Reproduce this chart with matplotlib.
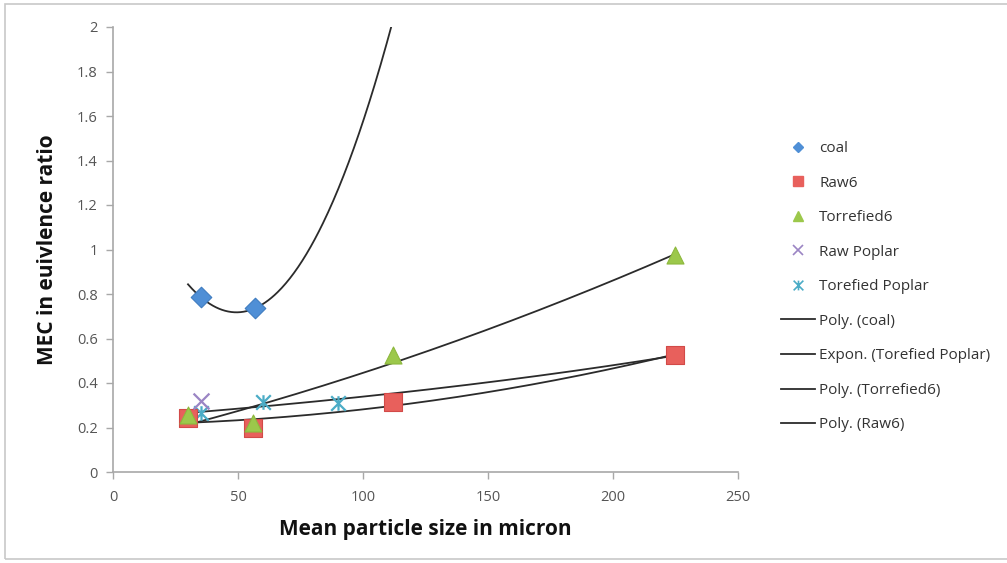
import numpy as np
import matplotlib
matplotlib.use("Agg")
import matplotlib.pyplot as plt
from matplotlib.patches import Rectangle
from matplotlib.lines import Line2D
from matplotlib.path import Path

# ---- data ----
coal_x = [35, 57]
coal_y = [0.787, 0.737]
# hidden (off-chart) coal point that drives the polynomial trend
coal_fit_x = [35, 57, 112]
coal_fit_y = [0.787, 0.737, 2.03]

raw6_x = [30, 56, 112, 225]
raw6_y = [0.243, 0.200, 0.315, 0.527]

torr6_x = [30, 56, 112, 225]
torr6_y = [0.256, 0.220, 0.525, 0.975]

rawpop_x = [35]
rawpop_y = [0.320]

torpop_x = [35, 60, 90, 225]
torpop_y = [0.265, 0.315, 0.310, 0.527]

x_ticks = [0, 50, 100, 150, 200, 250]
y_ticks = [0, 0.2, 0.4, 0.6, 0.8, 1.0, 1.2, 1.4, 1.6, 1.8, 2.0]
y_tick_labels = ["0", "0.2", "0.4", "0.6", "0.8", "1", "1.2", "1.4", "1.6", "1.8", "2"]

plt.rcParams['font.family'] = ['Open Sans', 'DejaVu Sans']

star = Path([(-1, -1), (1, 1), (-1, 1), (1, -1), (0, -1), (0, 1)],
            [Path.MOVETO, Path.LINETO, Path.MOVETO, Path.LINETO, Path.MOVETO, Path.LINETO])

fig = plt.figure(figsize=(10.07, 5.63), dpi=100)
ax = fig.add_axes([113/1007, 1-472/563, (738-113)/1007, (472-27)/563])

line_col = '#2b2b2b'
lw = 1.3

# trendlines computed from data
cf = np.polyfit(coal_fit_x, coal_fit_y, 2)
xs = np.linspace(30, 112, 200)
ax.plot(xs, np.polyval(cf, xs), color=line_col, lw=lw, zorder=2, clip_on=True)

tp = np.polyfit(torpop_x, np.log(torpop_y), 1)
xs = np.linspace(30, 225, 200)
ax.plot(xs, np.exp(np.polyval(tp, xs)), color=line_col, lw=lw, zorder=2)

t6 = np.polyfit(torr6_x, torr6_y, 2)
ax.plot(xs, np.polyval(t6, xs), color=line_col, lw=lw, zorder=2)

r6 = np.polyfit(raw6_x, raw6_y, 2)
ax.plot(xs, np.polyval(r6, xs), color=line_col, lw=lw, zorder=2)

ax.scatter(torpop_x, torpop_y, marker=star, s=110, color='#4BACC6', linewidths=1.6, zorder=3)
ax.scatter(raw6_x, raw6_y, marker='s', s=150, color='#E8605C', edgecolors='#D24A48', linewidths=0.8, zorder=4)
ax.scatter(torr6_x, torr6_y, marker='^', s=150, color='#9CC84B', edgecolors='#8DB83E', linewidths=0.8, zorder=5)
ax.scatter(coal_x, coal_y, marker='D', s=110, color='#4F8FD6', edgecolors='#3F7CC0', linewidths=0.8, zorder=5)
ax.scatter(rawpop_x, rawpop_y, marker='x', s=130, color='#9B85C4', linewidths=1.6, zorder=5)

ax.set_xlim(0, 250)
ax.set_ylim(0, 2)
ax.set_xticks(x_ticks)
ax.set_xticklabels([str(v) for v in x_ticks])
ax.set_yticks(y_ticks)
ax.set_yticklabels(y_tick_labels)

for s in ['top', 'right']:
    ax.spines[s].set_visible(False)
for s in ['left', 'bottom']:
    ax.spines[s].set_color('#a8a8a8')
    ax.spines[s].set_linewidth(1.2)
ax.tick_params(axis='both', colors='#a8a8a8', length=5, width=1.0, labelsize=10.5,
               labelcolor='#555555', direction='out')
ax.tick_params(axis='x', pad=8)
ax.tick_params(axis='y', pad=6)

ax.set_xlabel("Mean particle size in micron", fontsize=15, fontweight='bold',
              labelpad=10, color='#111111')
ax.set_ylabel("MEC in euivlence ratio", fontsize=15, fontweight='bold',
              labelpad=14, color='#111111')

handles = [
    Line2D([], [], ls='none', marker='D', color='#4F8FD6', markersize=5.5),
    Line2D([], [], ls='none', marker='s', color='#E8605C', markersize=7),
    Line2D([], [], ls='none', marker='^', color='#9CC84B', markersize=7),
    Line2D([], [], ls='none', marker='x', color='#9B85C4', markersize=7, markeredgewidth=1.2),
    Line2D([], [], ls='none', marker=star, color='#4BACC6', markersize=7, markeredgewidth=1.2),
    Line2D([], [], color=line_col, lw=lw),
    Line2D([], [], color=line_col, lw=lw),
    Line2D([], [], color=line_col, lw=lw),
    Line2D([], [], color=line_col, lw=lw),
]
labels = ["coal", "Raw6", "Torrefied6", "Raw Poplar", "Torefied Poplar",
          "Poly. (coal)", "Expon. (Torefied Poplar)", "Poly. (Torrefied6)", "Poly. (Raw6)"]
fig.legend(handles, labels, loc='upper left', bbox_to_anchor=(781/1007, 1-141/563),
           frameon=False, fontsize=11, labelspacing=1.28, handlelength=2.2,
           handletextpad=0.3, borderpad=0, borderaxespad=0, labelcolor='#333333')

fig.patches.append(Rectangle((5/1007, 1-559/563), 1.2, (559-4)/563, transform=fig.transFigure,
                             fill=False, edgecolor='#c8c8c8', linewidth=1.2))

fig.savefig("out.png", dpi=100)
